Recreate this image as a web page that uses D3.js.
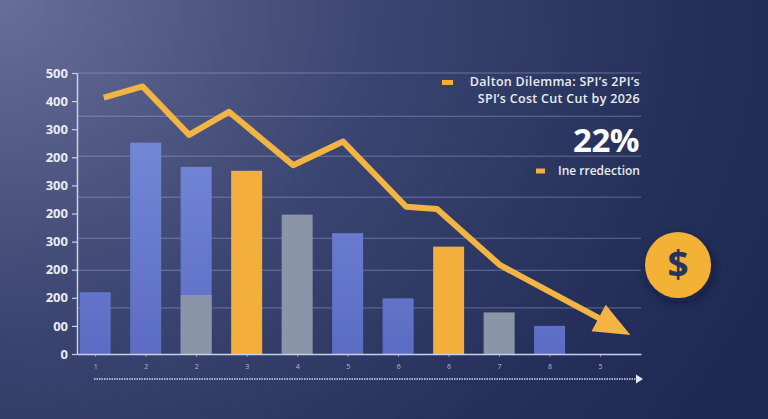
<!DOCTYPE html>
<html>
<head>
<meta charset="utf-8">
<script src="https://cdn.jsdelivr.net/npm/d3@7"></script>
<style>
  html, body { margin: 0; padding: 0; background: #1f2a53; }
  svg { display: block; }
  text { font-family: "Open Sans", "DejaVu Sans", sans-serif; }
</style>
</head>
<body>
<div id="chart"></div>
<script>
// chart values
var categories = ["1", "2", "2", "3", "4", "5", "6", "6", "7", "8", "5"];
var barValues = [110, 376, 333, 326, 248, 215, 99, 191, 74, 50];
var barKinds = ["blue", "blue", "blue", "orange", "gray", "blue", "blue", "orange", "gray", "blue"];
var barUnder = [0, 0, 105, 0, 0, 0, 0, 0, 0, 0];   // gray bottom part of bar 3
var linePos = [0.17, 0.94, 1.86, 2.65, 3.92, 4.91, 6.16, 6.77, 8.02, 10.6];
var lineValues = [456, 476, 390, 431, 336, 378, 262, 258, 158, 34];
var yTickValues = [0, 50, 100, 150, 200, 250, 300, 350, 400, 450, 500];
var yTickLabels = ["0", "00", "200", "200", "300", "200", "300", "200", "300", "400", "500"];
var gridValues = [500, 423, 352, 279, 206, 149, 82];
var legendLines = ["Dalton Dilemma: SPI\u2019s 2PI\u2019s", "SPI\u2019s Cost Cut Cut by 2026"];
var bigNumber = "22%";
var subLabel = "Ine rredection";

var W = 768, H = 419;
var colors = { orange: "#f4ae3b", gray: "#8a95a8", line: "#f2b443", text: "#e9ecf6" };

var svg = d3.select("#chart").append("svg")
  .attr("width", W)
  .attr("height", H);

var defs = svg.append("defs");

// background
var bg = defs.append("radialGradient")
  .attr("id", "bg")
  .attr("gradientUnits", "userSpaceOnUse")
  .attr("cx", 0).attr("cy", 0).attr("r", 820)
  .attr("gradientTransform", "scale(1.05,0.9)");
bg.append("stop").attr("offset", "0").attr("stop-color", "#676f98");
bg.append("stop").attr("offset", "0.45").attr("stop-color", "#3a4470");
bg.append("stop").attr("offset", "0.8").attr("stop-color", "#243059");
bg.append("stop").attr("offset", "1").attr("stop-color", "#1d2952");

var blueGrad = defs.append("linearGradient")
  .attr("id", "blueGrad")
  .attr("gradientUnits", "userSpaceOnUse")
  .attr("x1", 0).attr("y1", 73).attr("x2", 0).attr("y2", 354);
blueGrad.append("stop").attr("offset", "0").attr("stop-color", "#7a8fdc");
blueGrad.append("stop").attr("offset", "1").attr("stop-color", "#5c6cc4");

var shadow = defs.append("filter")
  .attr("id", "shadow")
  .attr("x", "-50%").attr("y", "-50%").attr("width", "200%").attr("height", "200%");
shadow.append("feDropShadow")
  .attr("dx", 2).attr("dy", 4).attr("stdDeviation", 5)
  .attr("flood-color", "#0b1230").attr("flood-opacity", 0.55);

svg.append("rect")
  .attr("width", W).attr("height", H)
  .attr("fill", "url(#bg)");

// scales
var x = d3.scaleLinear().domain([-0.36, 10.81]).range([77, 641]);
var y = d3.scaleLinear().domain([0, 500]).range([354, 73]);
var barW = 31;

function fillFor(kind) {
  if (kind === "blue") return "url(#blueGrad)";
  return colors[kind];
}

// grid
svg.append("g")
  .selectAll("line")
  .data(gridValues)
  .enter()
  .append("line")
  .attr("x1", x.range()[0])
  .attr("x2", x.range()[1])
  .attr("y1", function (d) { return y(d); })
  .attr("y2", function (d) { return y(d); })
  .attr("stroke", "#aab4de")
  .attr("stroke-opacity", 0.45)
  .attr("stroke-width", 1);

// bars
var bars = svg.append("g");
bars.selectAll("rect.bar")
  .data(barValues)
  .enter()
  .append("rect")
  .attr("class", "bar")
  .attr("x", function (d, i) { return x(i) - barW / 2; })
  .attr("y", function (d) { return y(d); })
  .attr("width", barW)
  .attr("height", function (d) { return y(0) - y(d); })
  .attr("fill", function (d, i) { return fillFor(barKinds[i]); });

// gray lower part where a bar is split
bars.selectAll("rect.under")
  .data(barUnder.map(function (v, i) { return { i: i, v: v }; }).filter(function (d) { return d.v > 0; }))
  .enter()
  .append("rect")
  .attr("class", "under")
  .attr("x", function (d) { return x(d.i) - barW / 2; })
  .attr("y", function (d) { return y(d.v); })
  .attr("width", barW)
  .attr("height", function (d) { return y(0) - y(d.v); })
  .attr("fill", colors.gray);

// y axis
var yAxis = svg.append("g")
  .attr("transform", "translate(" + x.range()[0] + ",0)")
  .call(d3.axisLeft(y)
    .tickValues(yTickValues)
    .tickFormat(function (d, i) { return yTickLabels[i]; })
    .tickSize(5)
    .tickSizeOuter(0)
    .tickPadding(4));
yAxis.select(".domain").attr("stroke", "#c9d0ec").attr("stroke-width", 1.5);
yAxis.selectAll(".tick line").attr("stroke", "#c9d0ec").attr("stroke-width", 1.2);
yAxis.selectAll(".tick text")
  .attr("fill", colors.text)
  .style("font-size", "13px")
  .style("font-weight", 700);

// x axis
var xAxis = svg.append("g")
  .attr("transform", "translate(0," + y(0) + ")")
  .call(d3.axisBottom(x)
    .tickValues(d3.range(categories.length))
    .tickFormat(function (d) { return categories[d]; })
    .tickSize(3)
    .tickSizeOuter(0)
    .tickPadding(7));
xAxis.select(".domain").attr("stroke", "#c9d0ec").attr("stroke-width", 1.5);
xAxis.selectAll(".tick line").attr("stroke", "#c9d0ec").attr("stroke-opacity", 0.6);
xAxis.selectAll(".tick text")
  .attr("fill", "#b4bcd9")
  .style("font-size", "7px");

// trend line with arrow head
var pts = lineValues.map(function (v, i) { return [x(linePos[i]), y(v)]; });
var tip = pts[pts.length - 1];
var prev = pts[pts.length - 2];
var dx = tip[0] - prev[0], dy = tip[1] - prev[1];
var len = Math.sqrt(dx * dx + dy * dy);
var ux = dx / len, uy = dy / len;
var headLen = 36, headHalf = 15;
var base = [tip[0] - ux * headLen, tip[1] - uy * headLen];
var shaft = pts.slice(0, -1).concat([[base[0] + ux * 3, base[1] + uy * 3]]);

svg.append("path")
  .datum(shaft)
  .attr("d", d3.line())
  .attr("fill", "none")
  .attr("stroke", colors.line)
  .attr("stroke-width", 6)
  .attr("stroke-linejoin", "round");

svg.append("path")
  .datum([
    tip,
    [base[0] - uy * headHalf, base[1] + ux * headHalf],
    [base[0] + uy * headHalf, base[1] - ux * headHalf]
  ])
  .attr("d", function (d) { return d3.line()(d) + "Z"; })
  .attr("fill", colors.line);

// dotted time arrow under the axis
var timeY = 379;
svg.append("line")
  .attr("x1", 94).attr("x2", 636)
  .attr("y1", timeY).attr("y2", timeY)
  .attr("stroke", "#d3d8ee")
  .attr("stroke-width", 1.5)
  .attr("stroke-dasharray", "1.5,1");
svg.append("path")
  .attr("d", "M636," + (timeY - 4.5) + "L643," + timeY + "L636," + (timeY + 4.5) + "Z")
  .attr("fill", "#e3e7f5");

// legend / annotation
var ann = svg.append("g");
ann.append("rect")
  .attr("x", 442).attr("y", 80).attr("width", 11).attr("height", 5)
  .attr("fill", colors.orange);
ann.selectAll("text.leg")
  .data(legendLines)
  .enter()
  .append("text")
  .attr("class", "leg")
  .attr("x", 640)
  .attr("y", function (d, i) { return 85.5 + i * 17; })
  .attr("text-anchor", "end")
  .attr("fill", colors.text)
  .style("font-size", "12.5px")
  .style("font-weight", 600)
  .style("letter-spacing", "0.3px")
  .text(function (d) { return d; });

ann.append("text")
  .attr("x", 639)
  .attr("y", 152)
  .attr("text-anchor", "end")
  .attr("fill", "#ffffff")
  .style("font-size", "33px")
  .style("font-weight", 700)
  .style("letter-spacing", "-0.5px")
  .text(bigNumber);

ann.append("rect")
  .attr("x", 536).attr("y", 168.5).attr("width", 9).attr("height", 5)
  .attr("fill", colors.orange);
ann.append("text")
  .attr("x", 640)
  .attr("y", 175)
  .attr("text-anchor", "end")
  .attr("fill", colors.text)
  .style("font-size", "12px")
  .style("font-weight", 600)
  .text(subLabel);

// dollar badge
var badge = svg.append("g").attr("transform", "translate(678,265)");
badge.append("circle")
  .attr("r", 33)
  .attr("fill", "#f3b235")
  .attr("filter", "url(#shadow)");
badge.append("text")
  .attr("text-anchor", "middle")
  .attr("dy", "0.36em")
  .attr("fill", "#27325e")
  .style("font-size", "37px")
  .style("font-weight", 700)
  .text("$");
</script>
</body>
</html>
